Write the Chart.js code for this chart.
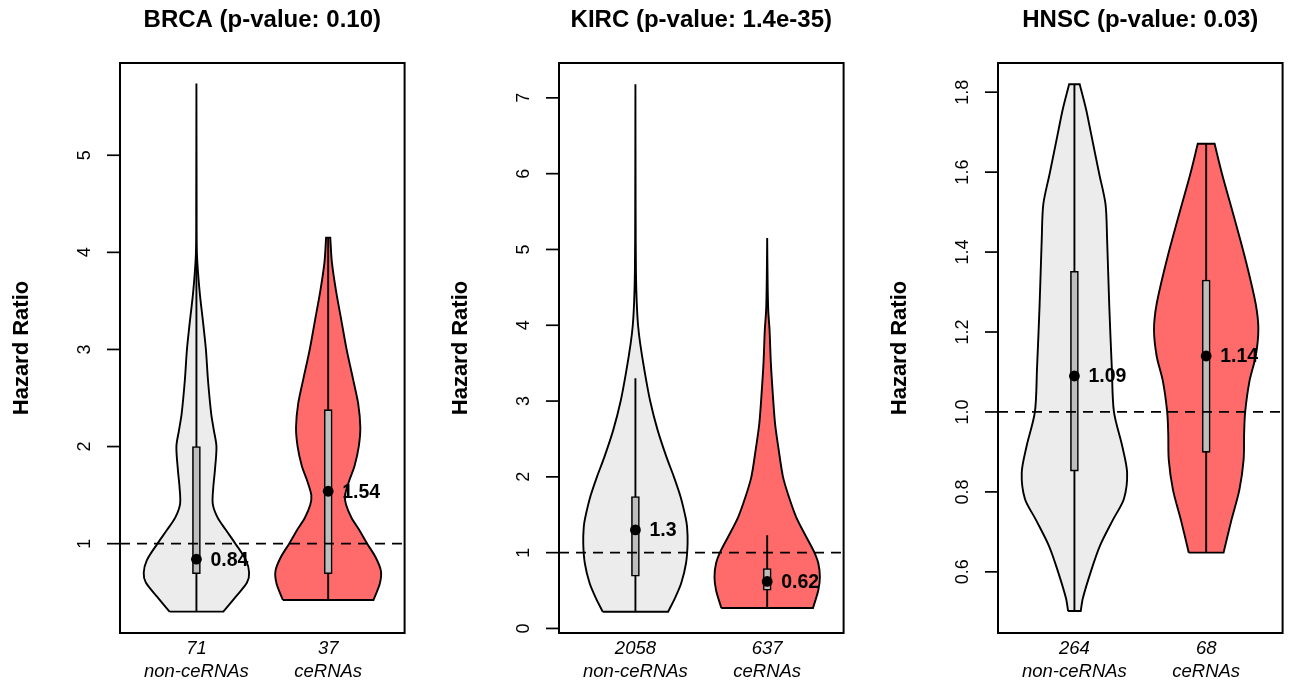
<!DOCTYPE html>
<html lang="en">
<head>
<meta charset="UTF-8">
<title>Hazard Ratio violin plots</title>
<script src="https://cdn.jsdelivr.net/npm/chart.js"></script>
<style>
  body { margin: 0; background: #fff; }
  .panel { position: absolute; top: 0; width: 410px; height: 681px; }
</style>
</head>
<body>
<div class="panel" style="left:0px"><canvas id="c0" width="410" height="681"></canvas></div>
<div class="panel" style="left:439px"><canvas id="c1" width="410" height="681"></canvas></div>
<div class="panel" style="left:878px"><canvas id="c2" width="410" height="681"></canvas></div>
<script>
// ---- data ----
const panelTitles = ["BRCA (p-value: 0.10)", "KIRC (p-value: 1.4e-35)", "HNSC (p-value: 0.03)"];
const groupNames = ["non-ceRNAs", "ceRNAs"];
const groupCounts = [[71, 37], [2058, 637], [264, 68]];
const yRanges = [[0.08, 5.95], [-0.06, 7.46], [0.447, 1.873]];
const yTicks = [[1, 2, 3, 4, 5], [0, 1, 2, 3, 4, 5, 6, 7], [0.6, 0.8, 1.0, 1.2, 1.4, 1.6, 1.8]];
const yTickLabels = [["1", "2", "3", "4", "5"], ["0", "1", "2", "3", "4", "5", "6", "7"],
                     ["0.6", "0.8", "1.0", "1.2", "1.4", "1.6", "1.8"]];

const medians   = [[0.84, 1.54], [1.3, 0.62], [1.09, 1.14]];
const q1        = [[0.69, 0.69], [0.69, 0.505], [0.852, 0.899]];
const q3        = [[2.0, 2.38], [1.74, 0.79], [1.352, 1.33]];
const whiskerLo = [[0.30, 0.42], [0.22, 0.27], [0.50, 0.648]];
const whiskerHi = [[3.97, 4.15], [3.30, 1.23], [1.82, 1.671]];

// violin outlines: hazard ratio value and relative half-width (1 = widest)
const brcaNonV = [0.30, 0.45, 0.60, 0.70, 0.83, 1.0, 1.14, 1.27, 1.41, 1.58, 1.75, 2.0, 2.17, 2.34, 2.68, 3.0, 3.26, 3.6, 3.98, 4.5, 5.74];
const brcaNonW = [0.51, 0.74, 0.96, 1.0, 0.94, 0.74, 0.56, 0.40, 0.31, 0.32, 0.35, 0.38, 0.33, 0.28, 0.22, 0.18, 0.13, 0.06, 0.01, 0.004, 0];
const brcaCeV  = [0.42, 0.59, 0.72, 0.86, 1.0, 1.14, 1.27, 1.4, 1.5, 1.65, 1.8, 2.0, 2.2, 2.44, 2.7, 3.0, 3.3, 3.6, 3.9, 4.15];
const brcaCeW  = [0.86, 0.98, 1.0, 0.90, 0.74, 0.59, 0.44, 0.34, 0.32, 0.40, 0.50, 0.58, 0.61, 0.57, 0.47, 0.35, 0.25, 0.15, 0.07, 0.04];
const kircNonV = [0.22, 0.40, 0.60, 0.86, 1.12, 1.34, 1.47, 1.74, 2.0, 2.26, 2.62, 3.0, 3.41, 3.76, 4.0, 4.3, 4.7, 5.5, 7.18];
const kircNonW = [0.62, 0.75, 0.87, 0.96, 0.99, 0.98, 0.95, 0.855, 0.73, 0.59, 0.42, 0.28, 0.17, 0.09, 0.05, 0.025, 0.01, 0.004, 0];
const kircCeV  = [0.27, 0.505, 0.68, 0.86, 1.01, 1.21, 1.47, 1.74, 2.0, 2.35, 2.7, 3.06, 3.5, 3.94, 4.2, 4.6, 5.15];
const kircCeW  = [0.87, 0.97, 1.0, 0.97, 0.89, 0.74, 0.55, 0.41, 0.30, 0.22, 0.15, 0.11, 0.07, 0.045, 0.02, 0.008, 0];
const hnscNonV = [0.502, 0.534, 0.6, 0.664, 0.73, 0.783, 0.848, 0.913, 1.0, 1.108, 1.27, 1.433, 1.52, 1.596, 1.70, 1.758, 1.82];
const hnscNonW = [0.12, 0.16, 0.31, 0.48, 0.73, 0.94, 1.0, 0.91, 0.75, 0.71, 0.66, 0.62, 0.59, 0.47, 0.31, 0.22, 0.10];
const hnscCeV  = [0.648, 0.73, 0.805, 0.88, 0.946, 1.0, 1.076, 1.14, 1.206, 1.27, 1.379, 1.487, 1.596, 1.671];
const hnscCeW  = [0.33, 0.48, 0.63, 0.71, 0.72, 0.74, 0.82, 0.94, 0.99, 0.94, 0.75, 0.53, 0.30, 0.16];

const violinValues = [[brcaNonV, brcaCeV], [kircNonV, kircCeV], [hnscNonV, hnscCeV]];
const violinWidths = [[brcaNonW, brcaCeW], [kircNonW, kircCeW], [hnscNonW, hnscCeW]];

// ---- styling ----
const FONT = "'Liberation Sans', Arial, Helvetica, sans-serif";
const violinColors = ["#ECECEC", "#FF6A6A"];
const xMin = 0.42, xMax = 2.58;
const maxHalfWidth = 0.4;

// closed outline: up the left side, down the right side; corners doubled so the flat ends stay straight
function violinOutline(cx, vals, widths) {
  const pts = [];
  const n = vals.length;
  for (let i = 0; i < n; i++) {
    const p = {x: cx - maxHalfWidth * widths[i], y: vals[i]};
    pts.push(p);
    if (i === 0 || i === n - 1) pts.push({...p});
  }
  for (let i = n - 1; i >= 0; i--) {
    const p = {x: cx + maxHalfWidth * widths[i], y: vals[i]};
    pts.push(p);
    if (i === 0 || i === n - 1) pts.push({...p});
  }
  pts.push({...pts[0]});
  return pts;
}

function framePlugin(p) {
  return {
    id: 'rframe' + p,
    afterDatasetsDraw(chart) {
      const {ctx, chartArea: a, scales} = chart;
      const y = scales.y, x = scales.x;
      ctx.save();
      // plot box
      ctx.strokeStyle = '#000';
      ctx.lineWidth = 2;
      ctx.strokeRect(a.left, a.top, a.right - a.left, a.bottom - a.top);
      // y ticks and rotated labels
      ctx.lineWidth = 1.7;
      ctx.fillStyle = '#000';
      ctx.font = '18px ' + FONT;
      ctx.textAlign = 'center';
      ctx.textBaseline = 'alphabetic';
      yTicks[p].forEach((v, i) => {
        const py = y.getPixelForValue(v);
        ctx.beginPath();
        ctx.moveTo(a.left - 13, py);
        ctx.lineTo(a.left, py);
        ctx.stroke();
        ctx.save();
        ctx.translate(a.left - 30, py);
        ctx.rotate(-Math.PI / 2);
        ctx.fillText(yTickLabels[p][i], 0, 0);
        ctx.restore();
      });
      // axis title
      ctx.save();
      ctx.font = 'bold 22px ' + FONT;
      ctx.textBaseline = 'middle';
      ctx.translate(a.left - 98, (a.top + a.bottom) / 2);
      ctx.rotate(-Math.PI / 2);
      ctx.fillText('Hazard Ratio', 0, 0);
      ctx.restore();
      // main title
      ctx.font = 'bold 24px ' + FONT;
      ctx.textBaseline = 'middle';
      ctx.fillText(panelTitles[p], (a.left + a.right) / 2, 20);
      // median labels
      ctx.font = 'bold 19.5px ' + FONT;
      ctx.textAlign = 'left';
      medians[p].forEach((m, g) => {
        ctx.fillText(String(m), x.getPixelForValue(g + 1) + 14, y.getPixelForValue(m) + 1);
      });
      ctx.restore();
    }
  };
}

function buildPanel(p) {
  const datasets = [];
  for (let g = 0; g < 2; g++) {
    const cx = g + 1;
    datasets.push({
      type: 'scatter',
      data: violinOutline(cx, violinValues[p][g], violinWidths[p][g]),
      showLine: true,
      fill: 'shape',
      backgroundColor: violinColors[g],
      borderColor: '#000',
      borderWidth: 1.9,
      pointRadius: 0,
      tension: 0.3,
      order: 5
    });
    datasets.push({
      type: 'scatter',
      data: [{x: cx, y: whiskerLo[p][g]}, {x: cx, y: whiskerHi[p][g]}],
      showLine: true,
      borderColor: '#000',
      borderWidth: 1.9,
      pointRadius: 0,
      order: 4
    });
  }
  datasets.push({
    type: 'bar',
    data: [{x: 1, y: [q1[p][0], q3[p][0]]}, {x: 2, y: [q1[p][1], q3[p][1]]}],
    backgroundColor: '#BEBEBE',
    borderColor: '#000',
    borderWidth: 1.6,
    borderSkipped: false,
    barThickness: 8,
    order: 3
  });
  datasets.push({
    type: 'scatter',
    data: [{x: 1, y: medians[p][0]}, {x: 2, y: medians[p][1]}],
    pointRadius: 5.4,
    backgroundColor: '#000',
    borderWidth: 0,
    order: 2
  });
  datasets.push({
    type: 'scatter',
    data: [{x: xMin, y: 1}, {x: xMax, y: 1}],
    showLine: true,
    borderColor: '#000',
    borderWidth: 1.7,
    borderDash: [10, 7],
    pointRadius: 0,
    order: 1
  });

  new Chart(document.getElementById('c' + p), {
    type: 'scatter',
    data: {datasets},
    options: {
      responsive: false,
      animation: false,
      events: [],
      layout: {padding: {top: 63, right: 3, left: 0, bottom: 0}},
      plugins: {legend: {display: false}, tooltip: {enabled: false}, title: {display: false}},
      scales: {
        x: {
          type: 'linear',
          min: xMin,
          max: xMax,
          offset: false,
          grid: {display: false, drawTicks: false, offset: false},
          border: {display: false},
          afterBuildTicks: s => { s.ticks = [{value: 1}, {value: 2}]; },
          afterFit: s => { s.height = 48; },
          ticks: {
            color: '#000',
            padding: 5,
            font: {family: FONT, size: 18.5, style: 'italic', lineHeight: 1.21},
            callback: v => [String(groupCounts[p][v - 1]), groupNames[v - 1]]
          }
        },
        y: {
          type: 'linear',
          min: yRanges[p][0],
          max: yRanges[p][1],
          grid: {display: false},
          border: {display: false},
          ticks: {display: false},
          afterFit: s => { s.width = 120; }
        }
      }
    },
    plugins: [framePlugin(p)]
  });
}

[0, 1, 2].forEach(buildPanel);
</script>
</body>
</html>
